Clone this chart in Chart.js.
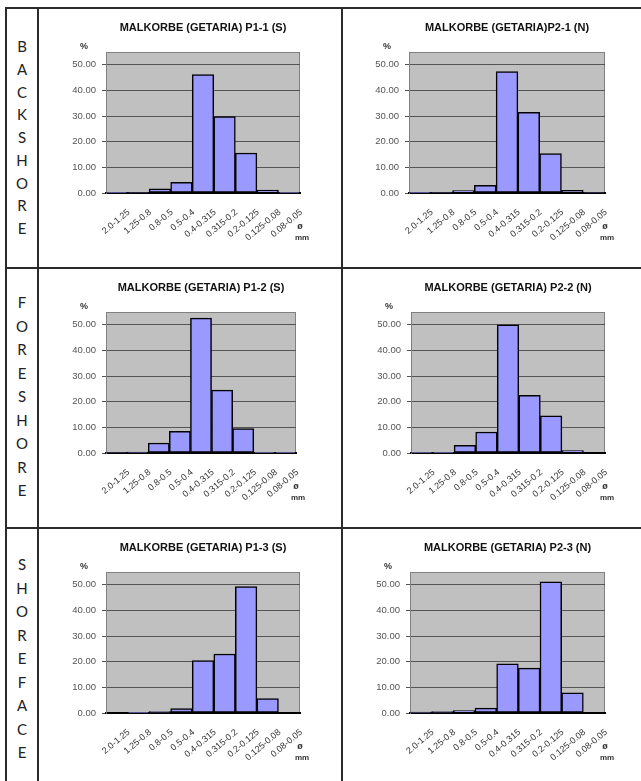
<!DOCTYPE html>
<html>
<head>
<meta charset="utf-8">
<script src="https://cdn.jsdelivr.net/npm/chart.js@4.4.1/dist/chart.umd.min.js"></script>
<style>
  html, body { margin: 0; padding: 0; background: #fff; }
  body { width: 641px; height: 781px; position: relative; overflow: hidden; }
  .line { position: absolute; background: #2a2a2a; }
  .letter { position: absolute; width: 32px; text-align: center; font-family: Lato, "Open Sans", sans-serif;
            font-size: 15px; color: #222; line-height: 16px; }
  canvas { position: absolute; }
</style>
</head>
<body>
<script>
// Grain size classes (mm) and percentages per sample
const sizeClasses = ['2.0-1.25', '1.25-0.8', '0.8-0.5', '0.5-0.4', '0.4-0.315', '0.315-0.2', '0.2-0.125', '0.125-0.08', '0.08-0.05'];
const p1_1 = [0.1, 0.2, 1.6, 4.2, 46.2, 29.8, 15.6, 1.1, 0.3];
const p2_1 = [0.1, 0.2, 0.9, 3.0, 47.4, 31.5, 15.4, 1.0, 0.2];
const p1_2 = [0.2, 0.4, 3.9, 8.5, 52.6, 24.5, 9.5, 0.3, 0.1];
const p2_2 = [0.1, 0.3, 3.0, 8.2, 50.0, 22.5, 14.5, 0.9, 0.0];
const p1_3 = [0.0, 0.1, 0.6, 1.7, 20.4, 23.0, 49.3, 5.6, 0.0];
const p2_3 = [0.4, 0.6, 0.9, 1.9, 19.2, 17.5, 51.2, 7.9, 0.0];
const titles = ['MALKORBE (GETARIA) P1-1 (S)', 'MALKORBE (GETARIA)P2-1 (N)',
                'MALKORBE (GETARIA) P1-2 (S)', 'MALKORBE (GETARIA) P2-2 (N)',
                'MALKORBE (GETARIA) P1-3 (S)', 'MALKORBE (GETARIA) P2-3 (N)'];
const series = [p1_1, p2_1, p1_2, p2_2, p1_3, p2_3];
const yTicks = [0, 10, 20, 30, 40, 50];
const rowLabels = ['BACKSHORE', 'FORESHORE', 'SHOREFACE'];

// plot area of each panel (left, top, width) in page pixels
const plots = [
  [106, 52, 194], [409, 52, 196],
  [106, 312, 190], [411, 312, 194],
  [106, 572, 194], [410, 572, 195]
];
const PLOT_H = 141, AXIS_W = 66, PAD_TOP = 42, PAD_RIGHT = 40, XAXIS_H = 75;
const FONT = '"Liberation Sans", Arial, sans-serif';

// table frame
function line(x, y, w, h) {
  const d = document.createElement('div');
  d.className = 'line';
  d.style.left = x + 'px'; d.style.top = y + 'px';
  d.style.width = w + 'px'; d.style.height = h + 'px';
  document.body.appendChild(d);
}
line(5, 7, 636, 2);
line(5, 7, 2, 774);
line(37, 7, 2, 774);
line(341, 7, 2, 774);
line(5, 267, 636, 2);
line(5, 527, 636, 2);

// vertical row labels
const letterStart = [46, 302, 564];
const letterStep = [22.75, 23.5, 23.5];
rowLabels.forEach(function(word, r) {
  word.split('').forEach(function(ch, i) {
    const d = document.createElement('div');
    d.className = 'letter';
    d.textContent = ch;
    d.style.left = '6px';
    d.style.top = (letterStart[r] + i * letterStep[r] - 8) + 'px';
    document.body.appendChild(d);
  });
});

const panelDecor = {
  id: 'panelDecor',
  beforeDraw(chart) {
    const a = chart.chartArea, ctx = chart.ctx;
    ctx.save();
    ctx.fillStyle = '#c0c0c0';
    ctx.fillRect(a.left, a.top, a.right - a.left, a.bottom - a.top);
    ctx.strokeStyle = '#808080';
    ctx.lineWidth = 1;
    ctx.strokeRect(a.left + 0.5, a.top + 0.5, a.right - a.left - 1, a.bottom - a.top);
    ctx.restore();
  },
  afterDraw(chart, args, opts) {
    const a = chart.chartArea, ctx = chart.ctx;
    ctx.save();
    ctx.fillStyle = '#111';
    ctx.textAlign = 'center';
    ctx.textBaseline = 'middle';
    ctx.font = 'bold 11px ' + FONT;
    ctx.fillText(opts.title, (a.left + a.right) / 2, a.top - 24);
    ctx.font = 'bold 9px ' + FONT;
    ctx.fillStyle = '#333';
    ctx.fillText('%', a.left - 22, a.top - 5);
    ctx.fillText('ø', a.right, a.bottom + 34);
    ctx.font = 'bold 8px ' + FONT;
    ctx.fillText('mm', a.right + 2, a.bottom + 45);
    ctx.restore();
  }
};

series.forEach(function(values, i) {
  const p = plots[i];
  const c = document.createElement('canvas');
  const w = p[2] + AXIS_W + PAD_RIGHT, h = PLOT_H + PAD_TOP + XAXIS_H;
  c.width = w; c.height = h;
  c.style.left = (p[0] - AXIS_W) + 'px';
  c.style.top = (p[1] - PAD_TOP) + 'px';
  c.style.width = w + 'px'; c.style.height = h + 'px';
  document.body.appendChild(c);

  new Chart(c, {
    type: 'bar',
    data: {
      labels: sizeClasses,
      datasets: [{
        data: values,
        backgroundColor: '#9999ff',
        borderColor: '#000',
        borderWidth: 1.5,
        borderSkipped: false,
        barPercentage: 1,
        categoryPercentage: 1
      }]
    },
    options: {
      responsive: false,
      animation: false,
      devicePixelRatio: 1,
      layout: { padding: { top: PAD_TOP, right: PAD_RIGHT, left: 0, bottom: 0 } },
      plugins: {
        legend: { display: false },
        tooltip: { enabled: false },
        panelDecor: { title: titles[i] }
      },
      scales: {
        x: {
          afterFit: function(s) { s.height = XAXIS_H; },
          grid: { display: false },
          border: { display: true, color: '#000', width: 2 },
          ticks: {
            autoSkip: false, minRotation: 40, maxRotation: 40,
            padding: 6, labelOffset: 12,
            color: '#333', font: { family: FONT, size: 9 }
          }
        },
        y: {
          min: 0, max: 55,
          afterFit: function(s) { s.width = AXIS_W; },
          afterBuildTicks: function(s) { s.ticks = yTicks.map(function(v) { return { value: v }; }); },
          grid: { color: '#555', lineWidth: 1, tickLength: 4, drawOnChartArea: true },
          border: { display: true, color: '#808080', width: 1 },
          ticks: {
            padding: 6, color: '#555', font: { family: FONT, size: 9.5 },
            callback: function(v) { return Number(v).toFixed(2); }
          }
        }
      }
    },
    plugins: [panelDecor]
  });
});
</script>
</body>
</html>
